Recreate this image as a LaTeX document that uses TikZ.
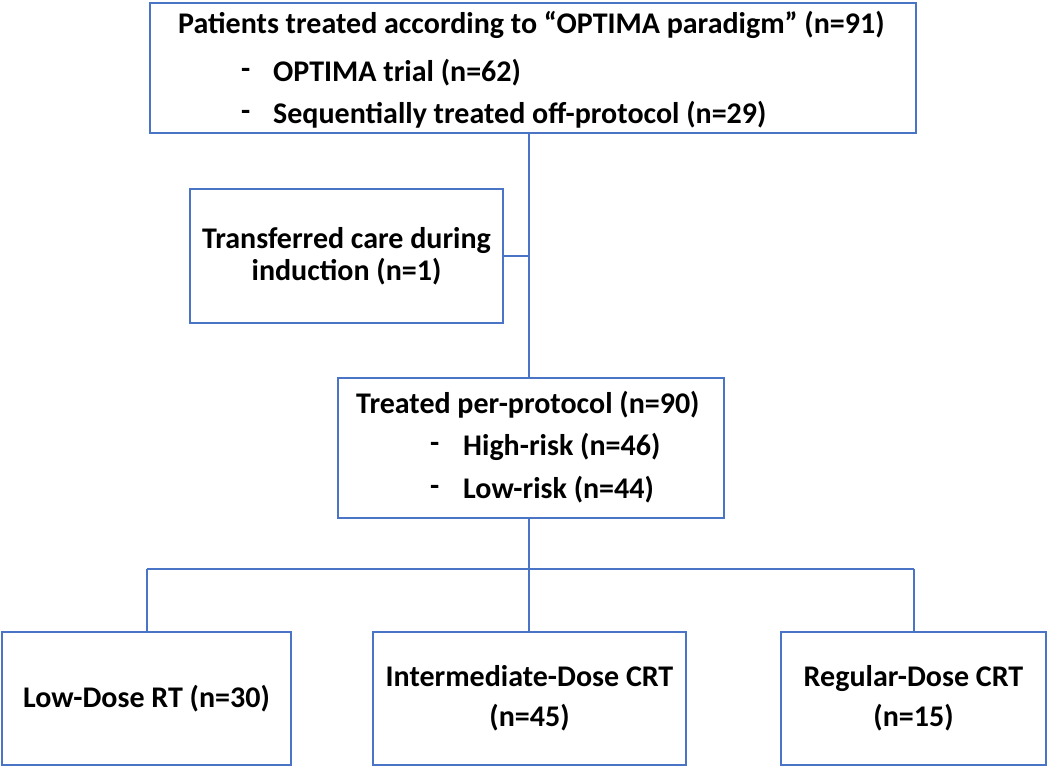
\documentclass[tikz,border=0pt]{standalone}
\usepackage{fontspec}
\setmainfont{Carlito}
\begin{document}
\begin{tikzpicture}[x=1pt,y=-1pt,
  box/.style={draw=boxblue,line width=2pt,inner sep=0pt,rectangle},
  conn/.style={draw=boxblue,line width=2pt},
  txt/.style={inner sep=0pt,font=\fontsize{30}{32}\selectfont\bfseries},
  ltxt/.style={txt,anchor=west}]
\definecolor{boxblue}{HTML}{4A74C6}
\useasboundingbox (0,0) rectangle (1050,768);
% boxes
\node[box,minimum width=766pt,minimum height=130pt] (top) at (533,68) {};
\node[box,minimum width=313pt,minimum height=134pt,align=center,txt] (trans) at (346.5,256) {Transferred care during\\induction (n=1)};
\node[box,minimum width=386pt,minimum height=140pt] (mid) at (531,448) {};
\node[box,minimum width=289pt,minimum height=133pt,txt] (b1) at (146.5,698.5) {Low-Dose RT (n=30)};
\node[box,minimum width=313pt,minimum height=133pt,align=center,txt] (b2) at (529.5,698.5) {Intermediate-Dose CRT\\[8pt](n=45)};
\node[box,minimum width=265pt,minimum height=133pt,align=center,txt] (b3) at (913.5,698.5) {Regular-Dose CRT\\[8pt](n=15)};
% texts in top box
\node[ltxt] (t1) at (178,25) {Patients treated according to “OPTIMA paradigm” (n=91)};
\node[ltxt] (t2d) at (241,73) {-};
\node[ltxt] (t2) at (273,73) {OPTIMA trial (n=62)};
\node[ltxt] (t3d) at (241,115) {-};
\node[ltxt] (t3) at (273,115) {Sequentially treated off-protocol (n=29)};
% texts in middle box
\node[ltxt] (m1) at (356,405) {Treated per-protocol (n=90)};
\node[ltxt] (m2d) at (430,447) {-};
\node[ltxt] (m2) at (463,447) {High-risk (n=46)};
\node[ltxt] (m3d) at (430,490) {-};
\node[ltxt] (m3) at (463,490) {Low-risk (n=44)};
% connectors
\coordinate (sp) at (529,0);
\coordinate (bus) at (0,569);
\draw[conn] (top.south -| sp) -- (mid.north -| sp);
\draw[conn] (trans.east) -- (trans.east -| sp);
\draw[conn] (mid.south -| sp) -- (sp |- bus);
\draw[conn] (b1.north |- bus) -- (b3.north |- bus);
\draw[conn] (b1.north |- bus) -- (b1.north);
\draw[conn] (sp |- bus) -- (b2.north -| sp);
\draw[conn] (b3.north |- bus) -- (b3.north);
\end{tikzpicture}
\end{document}
